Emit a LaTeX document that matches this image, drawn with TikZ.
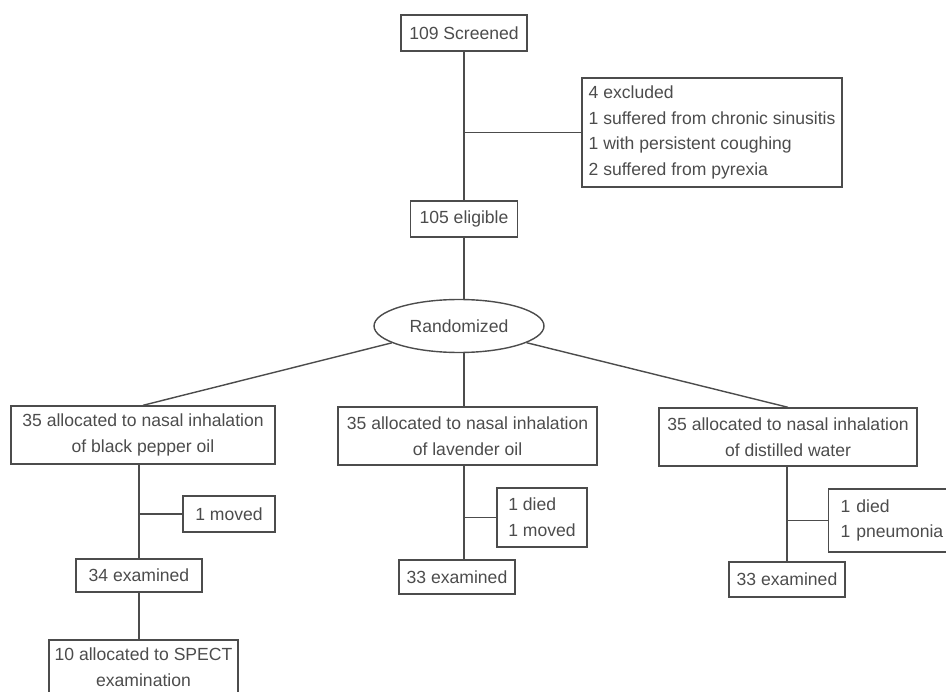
\documentclass[tikz,border=0pt]{standalone}
\usepackage{fontspec}
\setmainfont{Liberation Sans}
\usetikzlibrary{shapes.geometric}

\begin{document}
\begin{tikzpicture}[x=0.02cm, y=-0.02cm, line width=0.8pt, color=black!70,
    box/.style={draw, rectangle, inner xsep=0.1cm, inner ysep=0pt, align=center,
        font=\fontsize{10}{14.7}\selectfont}]
    \useasboundingbox (0,0) rectangle (946,692);
    \clip (0,0) rectangle (946,692);

    % screening
    \node[box, minimum width=2.52cm, minimum height=0.72cm] (scr) at (464,33) {109 Screened};
    \node[box, align=left, minimum width=5.2cm, minimum height=2.18cm] (excl) at (712,132.5)
        {4 excluded\\1 suffered from chronic sinusitis\\1 with persistent coughing\\2 suffered from pyrexia};
    \node[box, minimum width=2.14cm, minimum height=0.72cm] (elig) at (464,219) {105 eligible};
    \node[draw, ellipse, inner sep=0pt, minimum width=3.4cm, minimum height=1.06cm,
        font=\fontsize{10}{14.7}\selectfont] (rand) at (459,326) {Randomized};

    % allocation
    \node[box, minimum width=5.28cm, minimum height=1.16cm] (A) at (143,435)
        {35 allocated to nasal inhalation\\of black pepper oil};
    \node[box, minimum width=5.18cm, minimum height=1.16cm] (B) at (467.5,436)
        {35 allocated to nasal inhalation\\of lavender oil};
    \node[box, minimum width=5.16cm, minimum height=1.16cm] (C) at (788,437)
        {35 allocated to nasal inhalation\\of distilled water};

    % follow-up
    \node[box, minimum width=1.84cm, minimum height=0.72cm] (Aout) at (229,514) {1 moved};
    \node[box, minimum width=2.52cm, minimum height=0.66cm] (A34) at (139,575.5) {34 examined};
    \node[box, minimum width=3.78cm, minimum height=1.08cm] (Aspect) at (143.5,667)
        {10 allocated to SPECT\\examination};
    \node[box, align=left, minimum width=1.8cm, minimum height=1.18cm] (Bout) at (542,517.5)
        {1 died\\1 moved};
    \node[box, minimum width=2.32cm, minimum height=0.68cm] (B33) at (457,577) {33 examined};
    \node[box, align=left, anchor=west, inner xsep=0.24cm, text width=2.4cm, minimum height=1.26cm] (Cout) at (828,520.5)
        {1 died\\1 pneumonia};
    \node[box, minimum width=2.32cm, minimum height=0.7cm] (C33) at (787,579.5) {33 examined};

    \draw (scr) -- (elig);
    \draw (scr.south |- excl.west) -- (excl.west);
    \draw (elig.south) -- (elig.south |- rand.north);

    \draw (rand) -- (A.north);
    \draw (elig.south |- rand.south) -- (elig.south |- B.north);
    \draw (rand) -- (C.north);

    \draw (A34.north |- A.south) -- (A34.north);
    \draw (A34.north |- Aout.west) -- (Aout.west);
    \draw (A34.south) -- (A34.south |- Aspect.north);

    \draw (elig.south |- B.south) -- (elig.south |- B33.north);
    \draw (elig.south |- Bout.west) -- (Bout.west);

    \draw (C33.north |- C.south) -- (C33.north);
    \draw (C33.north |- Cout.west) -- (Cout.west);
\end{tikzpicture}
\end{document}
